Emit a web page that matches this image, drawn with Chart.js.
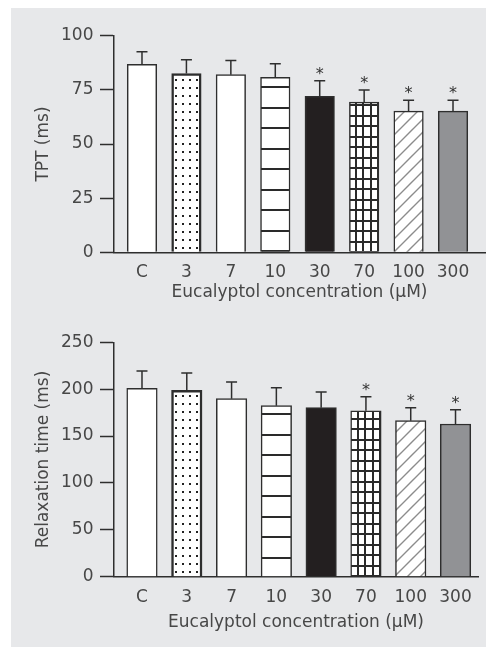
<!DOCTYPE html>
<html>
<head>
<meta charset="utf-8">
<script src="https://cdn.jsdelivr.net/npm/chart.js@4.4.1/dist/chart.umd.min.js"></script>
<style>
  body { margin: 0; background: #fff; }
  #painel { position: absolute; left: 11px; top: 8px; right: 0; bottom: 0; background: #e7e8ea; }
  canvas { position: absolute; left: 0; }
  #grafico-tpt { top: 0; }
  #grafico-relax { top: 310px; }
</style>
</head>
<body>
<div id="painel"></div>
<canvas id="grafico-tpt" width="486" height="310"></canvas>
<canvas id="grafico-relax" width="486" height="337"></canvas>
<script>
/* DADOS */
const categorias = ["C", "3", "7", "10", "30", "70", "100", "300"];

const tptMedia = [86.8, 82.5, 82.0, 80.8, 72.0, 69.3, 65.2, 65.2];
const tptErro = [5.8, 6.4, 6.6, 6.3, 7.2, 5.6, 5.0, 5.0];
const tptSignif = [false, false, false, false, true, true, true, true];
const tptTicks = [0, 25, 50, 75, 100];

const relaxMedia = [201, 198.8, 189.9, 182.4, 180.3, 177, 166.4, 162.9];
const relaxErro = [18.4, 18.5, 17.8, 19.2, 16.7, 15, 13.9, 15.2];
const relaxSignif = [false, false, false, false, false, true, true, true];
const relaxTicks = [0, 50, 100, 150, 200, 250];
/* FIM DADOS */

Chart.defaults.font.family = "'DejaVu Sans', sans-serif";
Chart.defaults.font.size = 17;
Chart.defaults.color = '#474747';

const TRACO = '#2e2e2e';
// preenchimento de cada barra, na ordem das categorias
const estilos = ['branco', 'pontos', 'branco', 'listras', 'preto', 'grade', 'hachura', 'cinza'];

/* PADRÕES DAS BARRAS */
function criaPadrao(tipo) {
    const c = document.createElement('canvas');
    const g = c.getContext('2d');
    if (tipo === 'pontos') {
        c.width = 7; c.height = 8;
        g.fillStyle = '#fff'; g.fillRect(0, 0, 7, 8);
        g.fillStyle = '#222'; g.fillRect(3, 3, 2, 2);
    } else if (tipo === 'listras') {
        c.width = 4; c.height = 41;
        g.fillStyle = '#fff'; g.fillRect(0, 0, 4, 41);
        g.fillStyle = '#2a2a2a'; g.fillRect(0, 0, 4, 2); g.fillRect(0, 20, 4, 2);
    } else if (tipo === 'grade') {
        c.width = 15; c.height = 21;
        g.fillStyle = '#fff'; g.fillRect(0, 0, 15, 21);
        g.fillStyle = '#2a2a2a';
        g.fillRect(0, 0, 2, 21); g.fillRect(7, 0, 2, 21);
        g.fillRect(0, 0, 15, 2); g.fillRect(0, 10, 15, 2);
    } else if (tipo === 'hachura') {
        const p = 13;
        c.width = p; c.height = p;
        g.fillStyle = '#fff'; g.fillRect(0, 0, p, p);
        g.strokeStyle = '#8c8c8c'; g.lineWidth = 1.4;
        g.beginPath();
        g.moveTo(0, p); g.lineTo(p, 0);
        g.moveTo(-2, 2); g.lineTo(2, -2);
        g.moveTo(p - 2, p + 2); g.lineTo(p + 2, p - 2);
        g.stroke();
    }
    return g.createPattern(c, 'repeat');
}
/* FIM PADRÕES */

function criaGrafico(id, cfg) {
    const padroes = [];
    const fundos = estilos.map((tipo, i) => {
        if (tipo === 'branco') return '#ffffff';
        if (tipo === 'preto') return '#231f20';
        if (tipo === 'cinza') return '#919295';
        const p = criaPadrao(tipo);
        padroes.push({ i: i, tipo: tipo, p: p });
        return p;
    });

    // encaixa os padrões na base/esquerda de cada barra
    const alinhaPadroes = {
        id: 'alinhaPadroes',
        beforeDatasetsDraw(chart) {
            const meta = chart.getDatasetMeta(0);
            padroes.forEach(item => {
                const barra = meta.data[item.i];
                const esq = Math.round(barra.x - barra.width / 2);
                const base = Math.round(barra.base);
                let dx = 0, dy = 0;
                if (item.tipo === 'listras') dy = -cfg.offsetListra - 1;
                if (item.tipo === 'grade') { dx = 6; dy = -11; }
                item.p.setTransform(new DOMMatrix([1, 0, 0, 1, esq + dx, base + dy]));
            });
        }
    };

    // barras de erro e asteriscos
    const barrasErro = {
        id: 'barrasErro',
        afterDatasetsDraw(chart) {
            const ctx = chart.ctx;
            const xs = chart.scales.x, ys = chart.scales.y;
            ctx.save();
            ctx.strokeStyle = TRACO;
            ctx.lineWidth = 1.5;
            ctx.fillStyle = '#333';
            ctx.font = "16px 'DejaVu Sans'";
            ctx.textAlign = 'center';
            ctx.textBaseline = 'alphabetic';
            cfg.media.forEach((m, i) => {
                const x = xs.getPixelForValue(i);
                const yb = ys.getPixelForValue(m);
                const yt = ys.getPixelForValue(m + cfg.erro[i]);
                ctx.beginPath();
                ctx.moveTo(x, yb); ctx.lineTo(x, yt);
                ctx.moveTo(x - 5.5, yt); ctx.lineTo(x + 5.5, yt);
                ctx.stroke();
                if (cfg.signif[i]) ctx.fillText('*', x, yt - 11.5 + 9.4);
            });
            ctx.restore();
        }
    };

    return new Chart(document.getElementById(id), {
        type: 'bar',
        data: {
            datasets: [{
                data: cfg.media.map((v, i) => ({ x: i, y: v })),
                backgroundColor: fundos,
                borderColor: TRACO,
                borderWidth: estilos.map(t => t === 'pontos' ? 2.5 : 1.5),
                barThickness: cfg.larguraBarra
            }]
        },
        options: {
            responsive: false,
            animation: false,
            events: [],
            layout: { padding: cfg.padding },
            plugins: { legend: { display: false }, tooltip: { enabled: false } },
            scales: {
                x: {
                    type: 'linear',
                    offset: false,
                    min: cfg.xMin,
                    max: cfg.xMax,
                    afterBuildTicks: s => { s.ticks = categorias.map((c, i) => ({ value: i })); },
                    ticks: { callback: v => categorias[v], padding: 2.5, autoSkip: false, maxRotation: 0 },
                    grid: { display: false, offset: false },
                    border: { display: true, color: TRACO, width: 1.5 },
                    title: { display: true, text: 'Eucalyptol concentration (µM)', padding: { top: 0, bottom: 0 } },
                    afterFit: s => { s.height = cfg.alturaX; }
                },
                y: {
                    min: 0,
                    max: cfg.ticksY[cfg.ticksY.length - 1],
                    afterBuildTicks: s => { s.ticks = cfg.ticksY.map(v => ({ value: v })); },
                    ticks: { padding: 6.5 },
                    grid: { drawOnChartArea: false, drawTicks: true, tickLength: 14, tickColor: TRACO, tickWidth: 1.5 },
                    border: { display: true, color: TRACO, width: 1.5 },
                    title: { display: true, text: cfg.tituloY, padding: { top: 33.3, bottom: 0 } },
                    afterFit: s => { s.width = 114; }
                }
            }
        },
        plugins: [alinhaPadroes, barrasErro]
    });
}

/* GRÁFICO TPT */
criaGrafico('grafico-tpt', {
    media: tptMedia, erro: tptErro, signif: tptSignif, ticksY: tptTicks,
    tituloY: 'TPT (ms)',
    xMin: -0.63, xMax: 7.72, larguraBarra: 29.5, alturaX: 50.9, offsetListra: 21,
    padding: { top: 35.7, right: 1, bottom: 6.8, left: 0 }
});
/* FIM GRÁFICO TPT */

/* GRÁFICO RELAXAMENTO */
criaGrafico('grafico-relax', {
    media: relaxMedia, erro: relaxErro, signif: relaxSignif, ticksY: relaxTicks,
    tituloY: 'Relaxation time (ms)',
    xMin: -0.625, xMax: 7.502, larguraBarra: 30.5, alturaX: 56.5, offsetListra: 18,
    padding: { top: 32.3, right: 8, bottom: 13.8, left: 0 }
});
/* FIM GRÁFICO RELAXAMENTO */
</script>
</body>
</html>
